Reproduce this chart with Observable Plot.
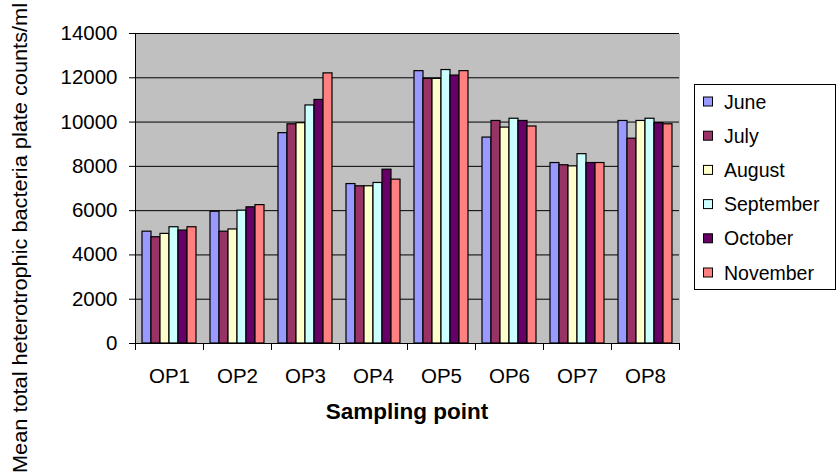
<!DOCTYPE html>
<html>
<head>
<meta charset="utf-8">
<script src="https://cdn.jsdelivr.net/npm/d3@7"></script>
<script src="https://cdn.jsdelivr.net/npm/@observablehq/plot@0.6"></script>
<style>
  body { margin: 0; background: #fff; }
  #chart svg { display: block; }
</style>
</head>
<body>
<div id="chart"></div>
<script>
// Sampling points along the x axis
const points = ["OP1", "OP2", "OP3", "OP4", "OP5", "OP6", "OP7", "OP8"];

// Sampling months (series)
const months = ["June", "July", "August", "September", "October", "November"];
const monthColors = ["#9999FF", "#993366", "#FFFFCC", "#CCFFFF", "#660066", "#FF8080"];

// Mean total heterotrophic bacteria plate counts/ml, one value per sampling point
const june      = [5050, 5950,  9500, 7200, 12300,  9300, 8150, 10050];
const july      = [4800, 5050,  9900, 7100, 11950, 10050, 8050,  9250];
const august    = [4950, 5150,  9950, 7100, 11950,  9750, 8000, 10050];
const september = [5250, 6000, 10750, 7250, 12350, 10150, 8550, 10150];
const october   = [5100, 6150, 11000, 7850, 12100, 10050, 8150,  9950];
const november  = [5250, 6250, 12200, 7400, 12300,  9800, 8150,  9900];

// y axis ticks
const yTicks = [0, 2000, 4000, 6000, 8000, 10000, 12000, 14000];

const series = [june, july, august, september, october, november];
const data = points.flatMap((p, i) =>
  months.map((m, j) => ({point: p, month: m, value: series[j][i]}))
);

const font = "'Liberation Sans', Arial, sans-serif";

const chart = Plot.plot({
  width: 838,
  height: 476,
  marginLeft: 135,
  marginRight: 159,
  marginTop: 33,
  marginBottom: 133,
  style: {fontFamily: font, fontSize: "20px", background: "#fff", color: "#000"},
  fx: {domain: points, padding: 0, label: null},
  x: {domain: months, paddingInner: 0, paddingOuter: 0.77, axis: null},
  y: {domain: [0, 14000], label: null},
  color: {domain: months, range: monthColors},
  marks: [
    // grey plot area
    Plot.frame({fill: "#C0C0C0", stroke: null, shapeRendering: "crispEdges"}),
    // horizontal gridlines
    Plot.ruleY(yTicks, {stroke: "#000", strokeWidth: 1}),
    // bars
    Plot.barY(data, {fx: "point", x: "month", y: "value", fill: "month", stroke: "#000", strokeWidth: 1.2}),
    // category boundary ticks below the baseline
    Plot.frame({anchor: "left", stroke: "#000", insetTop: 310, insetBottom: -6}),
    Plot.frame({anchor: "right", stroke: "#000", insetTop: 310, insetBottom: -6, facetAnchor: "right"}),
    // y axis line
    Plot.frame({anchor: "left", stroke: "#000", facetAnchor: "left"}),
    Plot.axisY(yTicks, {anchor: "left", tickSize: 6, tickPadding: 12, label: null, fontSize: 20.5, tickFormat: d3.format("d")}),
    Plot.axisFx({anchor: "bottom", tickSize: 0, tickPadding: 25, label: null, fontSize: 20.5})
  ]
});

document.getElementById("chart").appendChild(chart);

// axis titles and legend
const svg = d3.select(chart);
const color = chart.scale("color");

svg.append("text")
  .attr("transform", "translate(27,238) rotate(-90)")
  .attr("text-anchor", "middle")
  .attr("font-family", font)
  .attr("font-size", 19.5)
  .attr("textLength", 470)
  .attr("lengthAdjust", "spacingAndGlyphs")
  .attr("fill", "#000")
  .text("Mean total heterotrophic bacteria plate counts/ml");

svg.append("text")
  .attr("x", 407)
  .attr("y", 419)
  .attr("text-anchor", "middle")
  .attr("font-family", font)
  .attr("font-size", 22.5)
  .attr("font-weight", "bold")
  .attr("fill", "#000")
  .text("Sampling point");

const legend = svg.append("g")
  .attr("font-family", font)
  .attr("font-size", 19.5)
  .attr("text-anchor", "start");
legend.append("rect")
  .attr("x", 694.5).attr("y", 84.5).attr("width", 141).attr("height", 205)
  .attr("fill", "#fff").attr("stroke", "#000");
months.forEach((m, i) => {
  const cy = 101.5 + i * 34.2;
  legend.append("rect")
    .attr("x", 703.5).attr("y", cy - 4.5).attr("width", 9).attr("height", 9)
    .attr("fill", color.apply(m)).attr("stroke", "#000");
  legend.append("text")
    .attr("x", 724).attr("y", cy + 7)
    .attr("fill", "#000")
    .text(m);
});
</script>
</body>
</html>
